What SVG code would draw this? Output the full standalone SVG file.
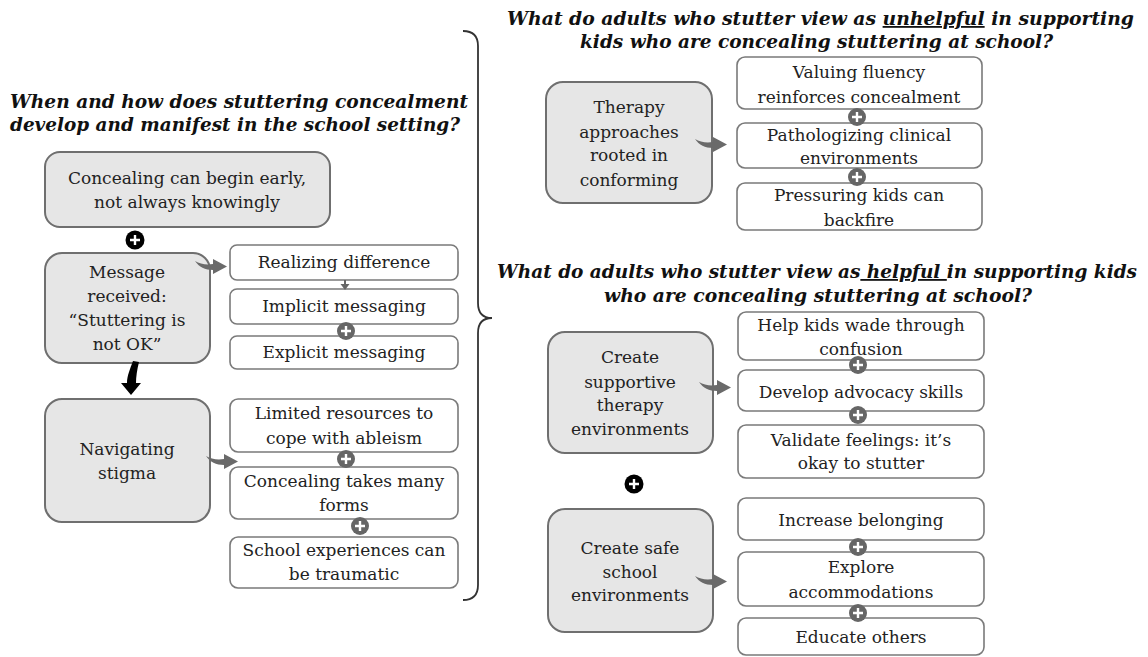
<svg xmlns="http://www.w3.org/2000/svg" xmlns:xlink="http://www.w3.org/1999/xlink" width="1148" height="657" viewBox="0 0 1148 657">
<style>
.big{fill:#e6e6e6;stroke:#6f6f6f;stroke-width:2}
.small{fill:#fff;stroke:#7a7a7a;stroke-width:1.6}
.t{font-family:"DejaVu Serif","Liberation Serif",serif;font-size:17px;fill:#222;text-anchor:middle}
.h{font-family:"DejaVu Serif","Liberation Serif",serif;font-size:18px;font-weight:bold;font-style:italic;fill:#111}
.arr{fill:#6a6a6a}
</style>
<defs>
<path id="bent" d="M0,0 C5,3 11,4 18,3 L18,-2 L32,5.5 L18,13 L18,9 C10,9 4,6 0,0 Z"/>
<g id="pg"><circle r="9" fill="#666"/><path d="M-5,0H5M0,-5V5" stroke="#fff" stroke-width="2.4"/></g>
<g id="pb"><circle r="9.5" fill="#000"/><path d="M-5,0H5M0,-5V5" stroke="#fff" stroke-width="2.4"/></g>
</defs>
<rect width="1148" height="657" fill="#fff"/>

<g id="titles">
<text class="h" x="10" y="108" textLength="458" lengthAdjust="spacingAndGlyphs">When and how does stuttering concealment</text>
<text class="h" x="10" y="131" textLength="450" lengthAdjust="spacingAndGlyphs">develop and manifest in the school setting?</text>
<text class="h" x="507" y="25" textLength="627" lengthAdjust="spacingAndGlyphs">What do adults who stutter view as <tspan text-decoration="underline">unhelpful</tspan> in supporting</text>
<text class="h" x="580" y="48" textLength="473" lengthAdjust="spacingAndGlyphs">kids who are concealing stuttering at school?</text>
<text class="h" x="497" y="278" textLength="640" lengthAdjust="spacingAndGlyphs">What do adults who stutter view as<tspan text-decoration="underline"> helpful </tspan>in supporting kids</text>
<text class="h" x="604" y="302" textLength="428" lengthAdjust="spacingAndGlyphs">who are concealing stuttering at school?</text>
</g>

<g id="brace">
<path d="M463,31 Q478,31 478,46 L478,303 Q478,318 492,318 Q478,318 478,333 L478,585 Q478,600 463,600" fill="none" stroke="#333" stroke-width="1.8"/>
</g>

<g id="n-concealing-early">
<rect class="big" x="45" y="152" width="285" height="75" rx="15"/>
<text class="t" x="187" y="184">Concealing can begin early,</text>
<text class="t" x="187" y="208">not always knowingly</text>
</g>
<g id="n-message">
<rect class="big" x="45" y="253" width="165" height="110" rx="17"/>
<text class="t" x="127" y="278">Message</text>
<text class="t" x="127" y="302">received:</text>
<text class="t" x="127" y="326">“Stuttering is</text>
<text class="t" x="127" y="350">not OK”</text>
</g>
<g id="n-realizing">
<rect class="small" x="230" y="245" width="228" height="35" rx="7"/>
<text class="t" x="344" y="268">Realizing difference</text>
</g>
<g id="n-implicit">
<rect class="small" x="230" y="289" width="228" height="35" rx="7"/>
<text class="t" x="344" y="312">Implicit messaging</text>
</g>
<g id="n-explicit">
<rect class="small" x="230" y="336" width="228" height="33" rx="7"/>
<text class="t" x="344" y="358">Explicit messaging</text>
</g>
<g id="n-stigma">
<rect class="big" x="45" y="399" width="165" height="123" rx="17"/>
<text class="t" x="127" y="455">Navigating</text>
<text class="t" x="127" y="479">stigma</text>
</g>
<g id="n-limited">
<rect class="small" x="230" y="399" width="228" height="53" rx="8"/>
<text class="t" x="344" y="419">Limited resources to</text>
<text class="t" x="344" y="444">cope with ableism</text>
</g>
<g id="n-forms">
<rect class="small" x="230" y="467" width="228" height="52" rx="8"/>
<text class="t" x="344" y="487">Concealing takes many</text>
<text class="t" x="344" y="511">forms</text>
</g>
<g id="n-traumatic">
<rect class="small" x="230" y="537" width="228" height="51" rx="8"/>
<text class="t" x="344" y="556">School experiences can</text>
<text class="t" x="344" y="580">be traumatic</text>
</g>

<g id="n-therapy-conforming">
<rect class="big" x="546" y="82" width="166" height="121" rx="17"/>
<text class="t" x="629" y="113">Therapy</text>
<text class="t" x="629" y="138">approaches</text>
<text class="t" x="629" y="161">rooted in</text>
<text class="t" x="629" y="186">conforming</text>
</g>
<g id="n-valuing">
<rect class="small" x="737" y="57" width="245" height="52" rx="8"/>
<text class="t" x="859" y="78">Valuing fluency</text>
<text class="t" x="859" y="103">reinforces concealment</text>
</g>
<g id="n-pathologizing">
<rect class="small" x="737" y="123" width="245" height="45" rx="8"/>
<text class="t" x="859" y="141">Pathologizing clinical</text>
<text class="t" x="859" y="164">environments</text>
</g>
<g id="n-pressuring">
<rect class="small" x="737" y="183" width="245" height="47" rx="8"/>
<text class="t" x="859" y="201">Pressuring kids can</text>
<text class="t" x="859" y="226">backfire</text>
</g>

<g id="n-supportive-therapy">
<rect class="big" x="548" y="332" width="165" height="121" rx="17"/>
<text class="t" x="630" y="363">Create</text>
<text class="t" x="630" y="388">supportive</text>
<text class="t" x="630" y="411">therapy</text>
<text class="t" x="630" y="435">environments</text>
</g>
<g id="n-wade">
<rect class="small" x="738" y="312" width="246" height="48" rx="8"/>
<text class="t" x="861" y="331">Help kids wade through</text>
<text class="t" x="861" y="355">confusion</text>
</g>
<g id="n-advocacy">
<rect class="small" x="738" y="370" width="246" height="41" rx="8"/>
<text class="t" x="861" y="398">Develop advocacy skills</text>
</g>
<g id="n-validate">
<rect class="small" x="738" y="425" width="246" height="53" rx="8"/>
<text class="t" x="861" y="446">Validate feelings: it’s</text>
<text class="t" x="861" y="469">okay to stutter</text>
</g>
<g id="n-safe-school">
<rect class="big" x="548" y="509" width="165" height="123" rx="17"/>
<text class="t" x="630" y="554">Create safe</text>
<text class="t" x="630" y="578">school</text>
<text class="t" x="630" y="601">environments</text>
</g>
<g id="n-belonging">
<rect class="small" x="738" y="498" width="246" height="42" rx="8"/>
<text class="t" x="861" y="526">Increase belonging</text>
</g>
<g id="n-accommodations">
<rect class="small" x="738" y="552" width="246" height="54" rx="8"/>
<text class="t" x="861" y="573">Explore</text>
<text class="t" x="861" y="598">accommodations</text>
</g>
<g id="n-educate">
<rect class="small" x="738" y="618" width="246" height="37" rx="8"/>
<text class="t" x="861" y="643">Educate others</text>
</g>

<g id="connectors">
<use xlink:href="#bent" class="arr" transform="translate(195,261)"/>
<use xlink:href="#bent" class="arr" transform="translate(206,456)"/>
<use xlink:href="#bent" class="arr" transform="translate(695,139)"/>
<use xlink:href="#bent" class="arr" transform="translate(699,382)"/>
<use xlink:href="#bent" class="arr" transform="translate(695,576)"/>
<path d="M345,280 V285" stroke="#666" stroke-width="2"/>
<path d="M340.5,284 L349.5,284 L345,290 Z" fill="#666"/>
<path d="M133,361 L139,362 C137,370 136,377 136,383 L141,383 L131,395 L121,383 L127,383 C127,376 130,369 133,361 Z" fill="#000"/>
<use xlink:href="#pb" x="135" y="240"/>
<use xlink:href="#pb" x="634" y="484"/>
<use xlink:href="#pg" x="346" y="331"/>
<use xlink:href="#pg" x="346" y="459"/>
<use xlink:href="#pg" x="360" y="526"/>
<use xlink:href="#pg" x="857" y="117"/>
<use xlink:href="#pg" x="857" y="177"/>
<use xlink:href="#pg" x="858" y="365"/>
<use xlink:href="#pg" x="858" y="415"/>
<use xlink:href="#pg" x="858" y="547"/>
<use xlink:href="#pg" x="858" y="613"/>
</g>
</svg>
